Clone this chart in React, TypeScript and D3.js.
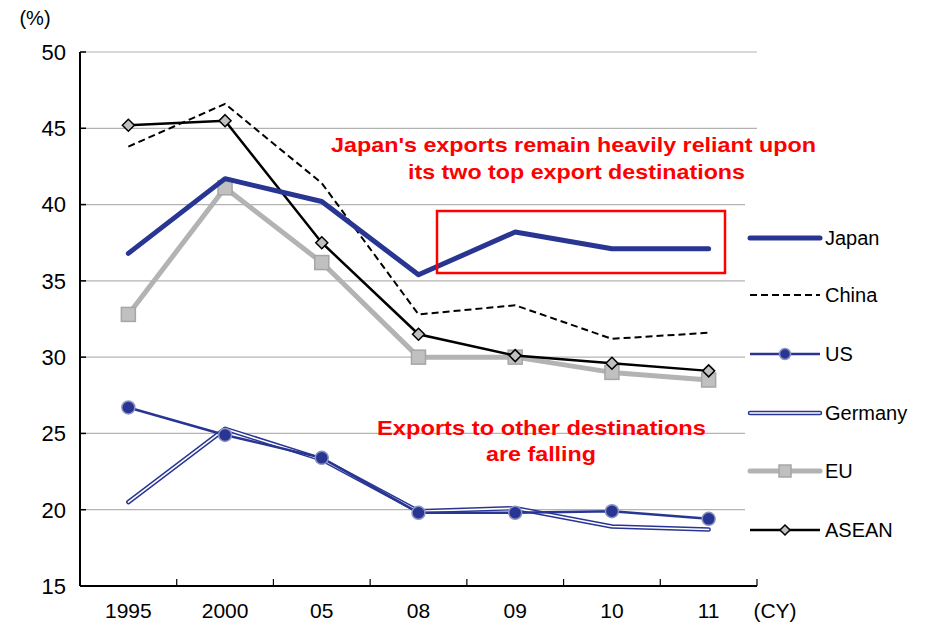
import React from "react";
import * as d3 from "d3";

const categories = ["1995", "2000", "05", "08", "09", "10", "11"];
const japan = [36.8, 41.7, 40.2, 35.4, 38.2, 37.1, 37.1];
const china = [43.8, 46.6, 41.4, 32.8, 33.4, 31.2, 31.6];
const us = [26.7, 24.9, 23.4, 19.8, 19.8, 19.9, 19.4];
const germany = [20.5, 25.3, 23.3, 19.9, 20.1, 18.9, 18.7];
const eu = [32.8, 41.1, 36.2, 30.0, 30.0, 29.0, 28.5];
const asean = [45.2, 45.5, 37.5, 31.5, 30.1, 29.6, 29.1];
const yTicks = [15, 20, 25, 30, 35, 40, 45, 50];
const legendNames = ["Japan", "China", "US", "Germany", "EU", "ASEAN"];

const NAVY = "#283593";
const FONT = "'Liberation Sans', Arial, sans-serif";

export default function App() {
  const W = 928, H = 625;
  const left = 80, right = 757, top = 52, bottom = 586;
  const x = d3.scaleBand<string>().domain(categories).range([left, right]);
  const cx = (c: string) => (x(c) as number) + x.bandwidth() / 2;
  const y = d3.scaleLinear().domain([15, 50]).range([bottom, top]);
  const line = d3.line<number>().x((_, i) => cx(categories[i])).y((d) => y(d));

  const diamond = (px: number, py: number, s: number) =>
    `M${px},${py - s}L${px + s},${py}L${px},${py + s}L${px - s},${py}Z`;

  const legendY = [238, 295, 354, 413, 471, 530];
  const lx0 = 750, lx1 = 820;

  return (
    <svg width={W} height={H} style={{ position: "absolute", left: 0, top: 0, background: "#fff" }} fontFamily={FONT}>
      <rect width={W} height={H} fill="#fff" />
      {/* gridlines */}
      {yTicks.filter((t) => t > 15).map((t) => (
        <line key={t} x1={left} x2={right} y1={y(t)} y2={y(t)} stroke="#b3b3b3" strokeWidth={1.2} />
      ))}
      {/* axes */}
      <line x1={left} x2={left} y1={top} y2={bottom} stroke="#000" strokeWidth={2} />
      <line x1={left} x2={right} y1={bottom} y2={bottom} stroke="#000" strokeWidth={2} />
      {yTicks.map((t) => (
        <g key={t}>
          <line x1={left} x2={left + 6} y1={y(t)} y2={y(t)} stroke="#000" strokeWidth={1.5} />
          <text x={66} y={y(t)} dy="0.36em" textAnchor="end" fontSize={22}>{t}</text>
        </g>
      ))}
      {categories.map((c) => (
        <line key={c} x1={(x(c) as number) + x.bandwidth()} x2={(x(c) as number) + x.bandwidth()} y1={bottom} y2={bottom - 7} stroke="#000" strokeWidth={1.2} />
      ))}
      {categories.map((c) => (
        <text key={c} x={cx(c)} y={618} textAnchor="middle" fontSize={21}>{c}</text>
      ))}
      <text x={775} y={618} textAnchor="middle" fontSize={21}>(CY)</text>
      <text x={35} y={25} textAnchor="middle" fontSize={20}>(%)</text>

      {/* Germany double line */}
      <path d={line(germany) as string} fill="none" stroke={NAVY} strokeWidth={4.5} strokeLinejoin="round" strokeLinecap="round" />
      <path d={line(germany) as string} fill="none" stroke="#fff" strokeWidth={1.6} strokeLinejoin="round" strokeLinecap="round" />
      {/* US */}
      <path d={line(us) as string} fill="none" stroke={NAVY} strokeWidth={2.5} />
      {us.map((v, i) => (
        <circle key={i} cx={cx(categories[i])} cy={y(v)} r={6.5} fill={NAVY} stroke="#8c93c0" strokeWidth={1.5} />
      ))}
      {/* EU */}
      <path d={line(eu) as string} fill="none" stroke="#b3b3b3" strokeWidth={5} strokeLinejoin="round" />
      {eu.map((v, i) => (
        <rect key={i} x={cx(categories[i]) - 7} y={y(v) - 7} width={14} height={14} fill="#c0c0c0" stroke="#a6a6a6" strokeWidth={1.5} />
      ))}
      {/* China */}
      <path d={line(china) as string} fill="none" stroke="#000" strokeWidth={2} strokeDasharray="7,4" />
      {/* ASEAN */}
      <path d={line(asean) as string} fill="none" stroke="#000" strokeWidth={2.5} />
      {asean.map((v, i) => (
        <path key={i} d={diamond(cx(categories[i]), y(v), 6)} fill="#c0c0c0" stroke="#000" strokeWidth={1.5} />
      ))}
      {/* Japan */}
      <path d={line(japan) as string} fill="none" stroke={NAVY} strokeWidth={5} strokeLinejoin="round" strokeLinecap="round" />

      {/* red box */}
      <rect x={437} y={211} width={288} height={62} fill="none" stroke="#ff0000" strokeWidth={2.5} />
      <g fill="#ff0000" fontWeight="bold" fontSize={21} style={{ whiteSpace: "pre" }}>
        <text x={331} y={152} textLength={485} lengthAdjust="spacingAndGlyphs">Japan's exports remain heavily reliant upon</text>
        <text x={408} y={179} textLength={337} lengthAdjust="spacingAndGlyphs">its two top export destinations</text>
        <text x={377} y={435} textLength={329} lengthAdjust="spacingAndGlyphs">Exports to  other destinations</text>
        <text x={486} y={461} textLength={110} lengthAdjust="spacingAndGlyphs">are falling</text>
      </g>

      {/* legend */}
      <rect x={745} y={200} width={183} height={360} fill="#fff" />
      {legendNames.map((n, i) => {
        const ly = legendY[i];
        const mx = (lx0 + lx1) / 2;
        return (
          <g key={n}>
            {n === "Japan" && <line x1={lx0} x2={lx1} y1={ly} y2={ly} stroke={NAVY} strokeWidth={5} strokeLinecap="round" />}
            {n === "China" && <line x1={lx0} x2={lx1} y1={ly} y2={ly} stroke="#000" strokeWidth={2} strokeDasharray="7,4" />}
            {n === "US" && (
              <g>
                <line x1={lx0} x2={lx1} y1={ly} y2={ly} stroke={NAVY} strokeWidth={2.5} />
                <circle cx={mx} cy={ly} r={5.5} fill={NAVY} stroke="#8c93c0" strokeWidth={1.5} />
              </g>
            )}
            {n === "Germany" && (
              <g>
                <line x1={lx0} x2={lx1} y1={ly} y2={ly} stroke={NAVY} strokeWidth={4.5} strokeLinecap="round" />
                <line x1={lx0} x2={lx1} y1={ly} y2={ly} stroke="#fff" strokeWidth={1.6} strokeLinecap="round" />
              </g>
            )}
            {n === "EU" && (
              <g>
                <line x1={lx0} x2={lx1} y1={ly} y2={ly} stroke="#b3b3b3" strokeWidth={5} strokeLinecap="round" />
                <rect x={mx - 6} y={ly - 6} width={12} height={12} fill="#c0c0c0" stroke="#a6a6a6" strokeWidth={1.5} />
              </g>
            )}
            {n === "ASEAN" && (
              <g>
                <line x1={lx0} x2={lx1} y1={ly} y2={ly} stroke="#000" strokeWidth={2.5} />
                <path d={diamond(mx, ly, 5)} fill="#c0c0c0" stroke="#000" strokeWidth={1.5} />
              </g>
            )}
            <text x={825} y={ly} dy="0.36em" fontSize={20}>{n}</text>
          </g>
        );
      })}
    </svg>
  );
}
